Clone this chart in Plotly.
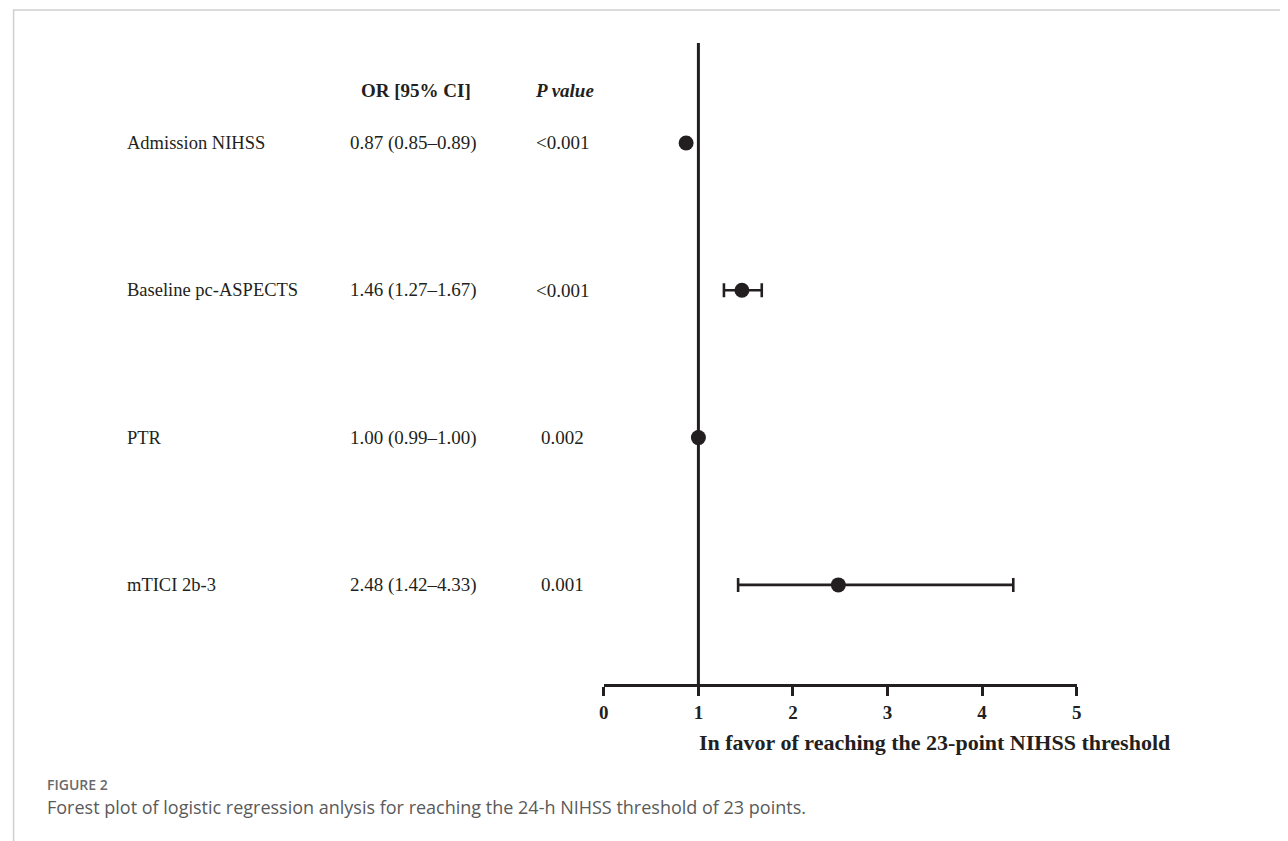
import plotly.graph_objects as go

# ---- data ----
labels = ["Admission NIHSS", "Baseline pc-ASPECTS", "PTR", "mTICI 2b-3"]
or_vals = [0.87, 1.46, 1.00, 2.48]
ci_lo = [0.85, 1.27, 0.99, 1.42]
ci_hi = [0.89, 1.67, 1.00, 4.33]
p_vals = ["<0.001", "<0.001", "0.002", "0.001"]
x_ticks = [0, 1, 2, 3, 4, 5]
x_title = "In favor of reaching the 23-point NIHSS threshold"
caption_label = "FIGURE 2"
caption_text = "Forest plot of logistic regression anlysis for reaching the 24-h NIHSS threshold of 23 points."

# the page body has an 8px default margin; the figure fills the rest of the window
OFF = 8
W, H = 1288 - OFF, 841 - OFF
INK = "#231f20"
SERIF = "Liberation Serif, Times New Roman, serif"
SANS = "Open Sans, Lato, sans-serif"

rows = list(range(len(labels)))

def px(x):
    return (x - OFF) / W

def py(y):
    return 1 - (y - OFF) / H

fig = go.Figure()
fig.add_trace(go.Scatter(
    x=or_vals, y=rows, mode="markers",
    marker=dict(size=15, color=INK),
    error_x=dict(type="data", symmetric=False,
                 array=[h - o for h, o in zip(ci_hi, or_vals)],
                 arrayminus=[o - l for o, l in zip(or_vals, ci_lo)],
                 color=INK, thickness=2.6, width=7),
    hoverinfo="skip", showlegend=False,
))

ann = []
for r, lab, o, lo, hi, p in zip(rows, labels, or_vals, ci_lo, ci_hi, p_vals):
    ann.append(dict(x=px(121), y=r, xref="paper", yref="y", text=lab,
                    xanchor="left", yanchor="middle", showarrow=False,
                    font=dict(family=SERIF, size=18.5, color=INK)))
    ann.append(dict(x=px(412), y=r, xref="paper", yref="y",
                    text=f"{o:.2f} ({lo:.2f}\u2013{hi:.2f})",
                    xanchor="center", yanchor="middle", showarrow=False,
                    font=dict(family=SERIF, size=19, color=INK)))
    ann.append(dict(x=px(562), y=r, xref="paper", yref="y", text=p,
                    xanchor="center", yanchor="middle", showarrow=False,
                    font=dict(family=SERIF, size=19, color=INK)))

ann.append(dict(x=px(414), y=py(90), xref="paper", yref="paper",
                text="<b>OR [95% CI]</b>", xanchor="center", yanchor="middle",
                showarrow=False, font=dict(family=SERIF, size=19, color=INK)))
ann.append(dict(x=px(564), y=py(90), xref="paper", yref="paper",
                text="<b><i>P value</i></b>", xanchor="center", yanchor="middle",
                showarrow=False, font=dict(family=SERIF, size=19, color=INK)))
ann.append(dict(x=px(937), y=py(742), xref="paper", yref="paper",
                text=f"<b>{x_title}</b>", xanchor="center", yanchor="middle",
                showarrow=False, font=dict(family=SERIF, size=22, color=INK)))
ann.append(dict(x=px(40), y=py(784), xref="paper", yref="paper",
                text=caption_label, xanchor="left", yanchor="middle",
                showarrow=False, font=dict(family=SANS, size=14, color="#6a6a6a", weight=600)))
ann.append(dict(x=px(40), y=py(807), xref="paper", yref="paper",
                text=caption_text, xanchor="left", yanchor="middle",
                showarrow=False, font=dict(family=SANS, size=18, color="#5a5a5a")))

# pixel geometry of the plotting region (page pixels)
x0_px, x5_px = 603.5, 1080.0
top_px, axis_px = 43.0, 684.0
row0_px, row_step = 143.0, 147.3
y_top = (top_px - row0_px) / row_step
y_bot = (axis_px - row0_px) / row_step

shapes = [
    dict(type="line", xref="x", yref="y domain", x0=1, x1=1, y0=0, y1=1,
         line=dict(color=INK, width=3)),
    dict(type="line", xref="paper", yref="paper", x0=0, x1=1, y0=py(10), y1=py(10),
         line=dict(color="#cfcfcf", width=1.5)),
    dict(type="line", xref="paper", yref="paper", x0=0.6 / W, x1=0.6 / W, y0=py(10), y1=0,
         line=dict(color="#cfcfcf", width=1.5)),
]

fig.update_layout(
    width=W, height=H, margin=dict(l=0, r=0, t=0, b=0),
    paper_bgcolor="white", plot_bgcolor="white",
    annotations=ann, shapes=shapes,
    xaxis=dict(domain=[px(x0_px), px(x5_px)], range=[0, 5],
               tickvals=x_ticks, ticktext=[f"<b>{t}</b>" for t in x_ticks],
               showline=True, linecolor=INK, linewidth=3,
               ticks="outside", ticklen=9, tickwidth=3, tickcolor=INK,
               showgrid=False, zeroline=False, anchor="y",
               tickfont=dict(family=SERIF, size=19, color=INK),
               fixedrange=True),
    yaxis=dict(domain=[py(axis_px), py(top_px)], range=[y_bot, y_top],
               visible=False, showgrid=False, zeroline=False, fixedrange=True),
)

fig.write_html("out.html")
